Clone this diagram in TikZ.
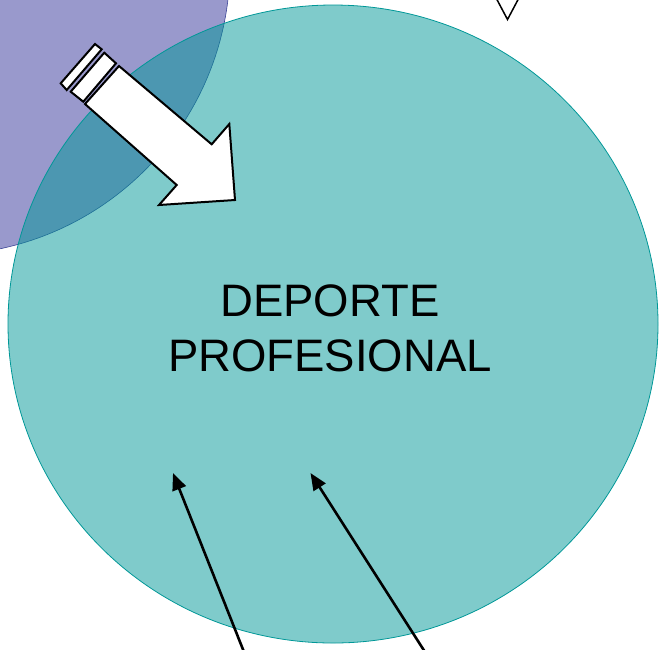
\documentclass[tikz,border=0pt]{standalone}
\usepackage{fontspec}
\setmainfont{Liberation Sans}
\usetikzlibrary{shapes.geometric,arrows.meta}
\definecolor{purplefill}{RGB}{153,153,204}
\definecolor{purpleedge}{RGB}{60,70,150}
\definecolor{tealc}{RGB}{0,151,151}
\tikzset{
  blockarrow/.style={draw=black, fill=white, line width=2pt, line join=miter},
  pointer/.style={draw=black, line width=2.6pt, -{Triangle[length=17pt,width=14pt]}},
}
\begin{document}
\begin{tikzpicture}[x=1pt,y=-1pt]
\useasboundingbox (0,0) rectangle (663,649);
\clip (0,0) rectangle (663,649);
% purple circle
\node[circle, minimum size=580pt, inner sep=0pt, fill=purplefill, draw=purpleedge, line width=0.6pt] (purple) at (-60,-35) {};
% teal circle
\node[ellipse, minimum width=650pt, minimum height=638pt, inner sep=0pt, fill=tealc, fill opacity=0.5, draw=tealc, line width=0.8pt] (main) at (333,324) {};
% text
\node[align=center, font=\fontsize{45.5}{55}\selectfont, inner sep=0pt] (label) at (330,328) {DEPORTE\\PROFESIONAL};
% top triangle
\draw[blockarrow, line width=1.5pt] (494,-6) -- (507.5,19.5) -- (521,-6) -- cycle;
% striped block arrow
\draw[blockarrow] (95,44) -- (101.7,49.3) -- (66.7,90) -- (60.7,83.3) -- cycle;
\draw[blockarrow] (104.3,52.7) -- (116,63.3) -- (83.3,101.7) -- (70.7,91.7) -- cycle;
\draw[blockarrow] (119,66) -- (211.7,144.3) -- (229.3,124) -- (235,200) -- (159,205) -- (176.7,185) -- (85,104) -- cycle;
% bottom arrows
\coordinate (s1) at (244,652);
\coordinate (t1) at (173,473);
\coordinate (s2) at (425,652);
\coordinate (t2) at (310.5,473);
\draw[pointer] (s1) -- (t1);
\draw[pointer] (s2) -- (t2);
\end{tikzpicture}
\end{document}
